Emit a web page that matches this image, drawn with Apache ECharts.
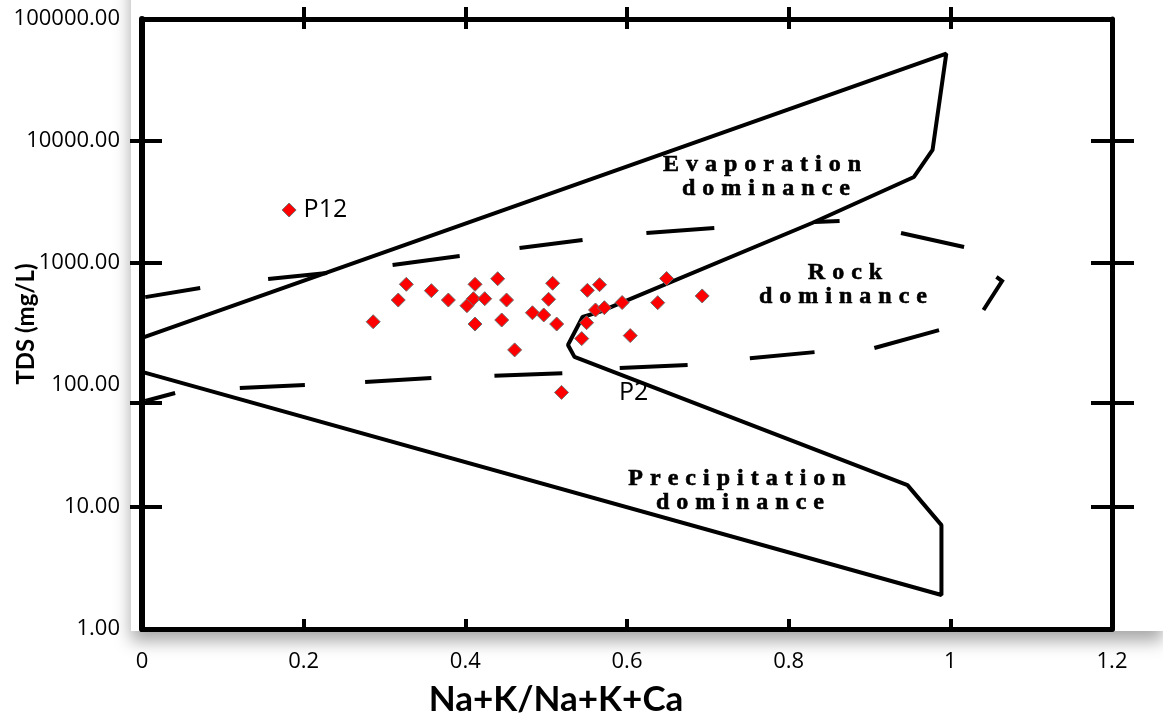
<!DOCTYPE html>
<html>
<head>
<meta charset="utf-8">
<title>Gibbs diagram</title>
<script src="https://cdn.jsdelivr.net/npm/echarts@6/dist/echarts.min.js"></script>
<style>
html,body{margin:0;padding:0;background:#fff;overflow:hidden;}
#gibbs_chart{width:1163px;height:720px;}
</style>
</head>
<body>
<div id="gibbs_chart"></div>
<script>
// samples : Na+K/(Na+K+Ca) and TDS (mg/L)
var sampleRatio = [0.286,0.317,0.327,0.358,0.379,0.402,0.410,0.412,0.412,0.424,0.440,0.445,0.451,0.461,0.483,0.497,
                   0.503,0.508,0.513,0.544,0.550,0.551,0.561,0.566,0.572,0.594,0.604,0.638,0.649,0.693];
var sampleTds = [330,497,669,593,497,447,510,669,316,510,743,341,497,194,391,375,
                 504,682,316,240,324,597,412,664,430,474,254,473,746,537];

// samples with a name written next to them
var labelName = ['P12','P2'];
var labelRatio = [0.182,0.519];
var labelTds = [2718,87];

// axis ticks
var xTicks = [0,0.2,0.4,0.6,0.8,1,1.2];
var yTicks = [1,10,100,1000,10000,100000];
var frameXTicks = [0.2,0.4,0.6,0.8,1];
var frameYTicks = [10,72,1000,10000];

// Gibbs boundary (solid)
var boundaryRatio = [0,0.995,0.978,0.955,0.829,0.566,0.545,0.527,0.535,0.947,0.989,0.989,0];
var boundaryTds = [243,52000,8440,5070,2128,397,361,213,170,15.1,7.1,1.9,128];

// rock dominance boundary (dashed), one entry per dash
var dashRatio = [[0.004,0.072],[0.156,0.229],[0.310,0.393],[0.467,0.545],[0.624,0.708],[0.832,0.863],[0.939,1.017],
                 [1.057,1.064,1.041],[0.986,0.906],[0.752,0.832],[0.591,0.675],[0.436,0.520],[0.276,0.358],[0.121,0.2015],[0.004,0.041]];
var dashTds = [[525,624],[739,828],[963,1141],[1327,1544],[1762,1935],[2170,2210],[1762,1352],
               [768,712,412],[282,201],[166,186],[138,146],[119,125],[106,114],[94.5,100],[74,86]];

function spaced(word){
	var out='';
	for(var i=0;i<word.length;i++){
		out+='{s|'+word.charAt(i)+'}';
	}
	return out;
}

function regionText(word,x,y){
	return {
		type:'text', x:x, y:y, z:5,
		style:{
			text:spaced(word),
			align:'center', verticalAlign:'middle',
			rich:{
				s:{font:'bold 24px "Liberation Serif"', fontFamily:'Liberation Serif', fontWeight:'bold', fontSize:24,
					fill:'#000', stroke:'#000', lineWidth:0.6, padding:[0,3.5,0,3.5]}
			}
		}
	};
}

var samples=[];
for(var i=0;i<sampleRatio.length;i++){
	samples.push([sampleRatio[i],sampleTds[i]]);
}
var labelGap={P12:7,P2:50};
var named=[];
for(var i=0;i<labelName.length;i++){
	named.push({
		name:labelName[i],
		value:[labelRatio[i],labelTds[i]],
		label:{show:true, position:'right', distance:labelGap[labelName[i]], formatter:'{b}',
			fontFamily:'Open Sans', fontSize:25, color:'#000', opacity:1}
	});
}
var boundary=[];
for(var i=0;i<boundaryRatio.length;i++){
	boundary.push([boundaryRatio[i],boundaryTds[i]]);
}
var dashes=[];
for(var i=0;i<dashRatio.length;i++){
	var c=[];
	for(var j=0;j<dashRatio[i].length;j++){
		c.push([dashRatio[i][j],dashTds[i][j]]);
	}
	dashes.push({coords:c});
}

var black='#000';
function frameX(position,inside,len,showLine){
	return {
		type:'value', position:position, min:xTicks[0], max:xTicks[xTicks.length-1], interval:0.2,
		axisLine:{show:showLine, onZero:false, lineStyle:{color:black, width:5}},
		axisTick:{show:true, inside:inside, length:len, customValues:frameXTicks, lineStyle:{color:black, width:4}},
		axisLabel:{show:false},
		splitLine:{show:false}
	};
}
function frameY(position,inside,len,showLine){
	return {
		type:'log', logBase:10, position:position, min:yTicks[0], max:yTicks[yTicks.length-1],
		axisLine:{show:showLine, onZero:false, lineStyle:{color:black, width:5}},
		axisTick:{show:true, inside:inside, length:len, customValues:frameYTicks, lineStyle:{color:black, width:4}},
		axisLabel:{show:false},
		splitLine:{show:false}
	};
}

var bottomAxis=frameX('bottom',true,10,true);
bottomAxis.axisLabel={show:true, margin:22, fontFamily:'Open Sans', fontSize:22, color:black};

var leftAxis=frameY('left',true,20,true);
leftAxis.axisLine.lineStyle.width=6;
leftAxis.axisLabel={show:true, margin:22, fontFamily:'Open Sans', fontSize:22, color:black,
	formatter:function(v){return Number(v).toFixed(2);}};
leftAxis.name='TDS (mg/L)';
leftAxis.nameLocation='middle';
leftAxis.nameGap=104;
leftAxis.nameMoveOverlap=false;
leftAxis.nameTextStyle={fontFamily:'Lato', fontWeight:'bold', fontSize:24, color:black};

var diamondStyle={color:'#ff0000', borderColor:'#6d6d6d', borderWidth:1, opacity:1};

var option={
	backgroundColor:'#fff',
	animation:false,
	grid:{left:142, right:51, top:19, bottom:91, outerBoundsMode:'none'},
	xAxis:[bottomAxis, frameX('top',false,12,true), frameX('top',true,10,false)],
	yAxis:[leftAxis, frameY('left',false,12,false), frameY('right',false,22,true), frameY('right',true,21,false)],
	graphic:[
		{type:'rect', z:-10, shape:{x:131, y:-60, width:1032, height:691},
			style:{fill:'#fff', shadowBlur:16, shadowOffsetY:10, shadowColor:'rgba(0,0,0,0.35)'}},
		regionText('Evaporation',762,165),
		regionText('dominance',766,189),
		regionText('Rock',845,273),
		regionText('dominance',843,297),
		regionText('Precipitation',737,479),
		regionText('dominance',740,503),
		{type:'text', x:556, y:700, z:5,
			style:{text:'Na+K/Na+K+Ca', fontFamily:'Lato', fontWeight:'bold', fontSize:35, fill:black,
				align:'center', verticalAlign:'middle'}}
	],
	series:[
		{
			name:'boundary', type:'line', data:boundary, showSymbol:false, silent:true,
			lineStyle:{color:black, width:4}, z:3
		},
		{
			name:'rock', type:'lines', coordinateSystem:'cartesian2d', polyline:true, data:dashes, silent:true,
			lineStyle:{color:black, width:4, opacity:1}, z:3
		},
		{
			name:'samples', type:'scatter', data:samples, symbol:'diamond', symbolSize:14,
			itemStyle:diamondStyle, z:4
		},
		{
			name:'named', type:'scatter', data:named, symbol:'diamond', symbolSize:14,
			itemStyle:diamondStyle, z:4
		}
	]
};

var mychart=echarts.init(document.getElementById('gibbs_chart'));
mychart.setOption(option);
</script>
</body>
</html>
